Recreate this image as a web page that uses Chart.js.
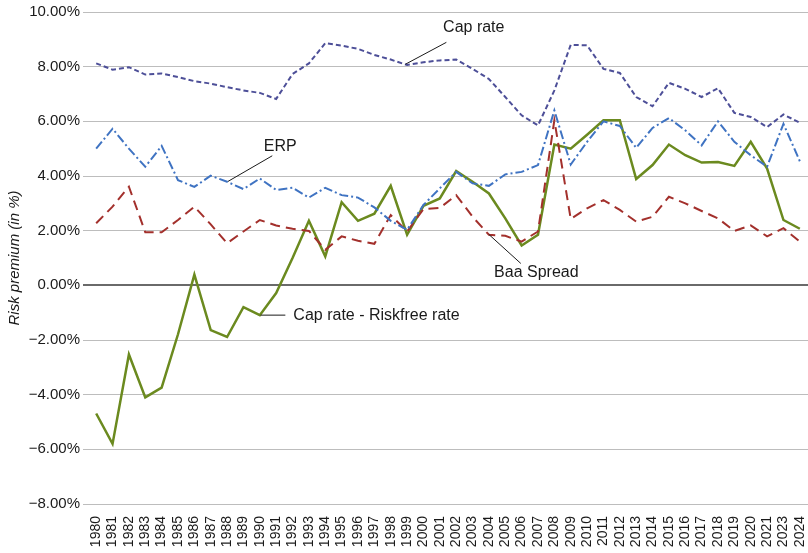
<!DOCTYPE html>
<html>
<head>
<meta charset="utf-8">
<script src="https://cdn.jsdelivr.net/npm/chart.js@4"></script>
<style>
  html, body { margin: 0; padding: 0; background: #fff; }
  #wrap { width: 808px; height: 553px; position: relative; }
</style>
</head>
<body>
<div id="wrap"><canvas id="chart"></canvas></div>
<script>
const years = ["1980","1981","1982","1983","1984","1985","1986","1987","1988","1989",
  "1990","1991","1992","1993","1994","1995","1996","1997","1998","1999",
  "2000","2001","2002","2003","2004","2005","2006","2007","2008","2009",
  "2010","2011","2012","2013","2014","2015","2016","2017","2018","2019",
  "2020","2021","2023","2024"];

const capRate = [8.12,7.89,7.98,7.71,7.75,7.62,7.47,7.38,7.25,7.13,
  7.04,6.82,7.73,8.12,8.86,8.77,8.65,8.43,8.26,8.06,
  8.16,8.23,8.26,7.92,7.55,6.89,6.22,5.85,7.13,8.80,
  8.78,7.92,7.77,6.89,6.55,7.41,7.19,6.89,7.21,6.31,
  6.16,5.79,6.25,5.95];

const erp = [5.00,5.73,5.00,4.34,5.10,3.85,3.60,4.01,3.79,3.52,
  3.91,3.49,3.57,3.21,3.57,3.30,3.21,2.85,2.36,2.03,
  2.94,3.55,4.15,3.73,3.64,4.06,4.15,4.40,6.40,4.42,
  5.25,6.00,5.83,5.03,5.76,6.12,5.67,5.12,6.00,5.25,
  4.76,4.34,5.91,4.54];

const baaSpread = [2.27,2.88,3.61,1.94,1.94,2.39,2.88,2.23,1.54,1.97,
  2.39,2.19,2.07,1.99,1.30,1.79,1.63,1.52,2.57,1.97,
  2.79,2.83,3.30,2.51,1.85,1.81,1.60,1.97,6.04,2.43,
  2.82,3.12,2.76,2.33,2.51,3.24,3.00,2.72,2.45,1.99,
  2.19,1.79,2.09,1.60];

const capMinusRf = [-4.69,-5.80,-2.53,-4.10,-3.74,-1.79,0.39,-1.64,-1.89,-0.80,
  -1.09,-0.28,1.00,2.36,1.06,3.04,2.36,2.62,3.64,1.85,
  2.91,3.18,4.18,3.79,3.36,2.45,1.46,1.85,5.15,5.00,
  5.51,6.04,6.04,3.89,4.40,5.15,4.76,4.49,4.51,4.37,
  5.25,4.27,2.39,2.07];

const yMin = -8, yMax = 10, yStep = 2;

// callout labels, placed in data space (category index, value)
const callouts = [
  { text: "Cap rate", from: [18.9, 8.09], to: [21.4, 8.89], at: [21.2, 9.43], align: "left" },
  { text: "ERP", from: [8.05, 3.80], to: [10.76, 4.74], at: [11.25, 5.06], align: "center" },
  { text: "Baa Spread", from: [24.0, 1.86], to: [25.95, 0.80], at: [26.9, 0.47], align: "center" },
  { text: "Cap rate - Riskfree rate", from: [10.05, -1.09], to: [11.56, -1.09], at: [12.05, -1.09], align: "left" }
];

const FONT = "'Liberation Sans', Arial, Helvetica, sans-serif";

const calloutPlugin = {
  id: "callouts",
  afterDatasetsDraw(chart) {
    const { ctx, scales: { x, y } } = chart;
    const px = i => x.getPixelForValue(0) + i * (x.getPixelForValue(1) - x.getPixelForValue(0));
    ctx.save();
    ctx.strokeStyle = "#1a1a1a";
    ctx.lineWidth = 1;
    ctx.fillStyle = "#1a1a1a";
    ctx.font = "16px " + FONT;
    ctx.textBaseline = "middle";
    callouts.forEach(c => {
      ctx.beginPath();
      ctx.moveTo(px(c.from[0]), y.getPixelForValue(c.from[1]));
      ctx.lineTo(px(c.to[0]), y.getPixelForValue(c.to[1]));
      ctx.stroke();
      ctx.textAlign = c.align;
      ctx.fillText(c.text, px(c.at[0]), y.getPixelForValue(c.at[1]));
    });
    ctx.restore();
  }
};

const ctx = document.getElementById("chart").getContext("2d");
new Chart(ctx, {
  type: "line",
  data: {
    labels: years,
    datasets: [
      { label: "Cap rate", data: capRate, borderColor: "#4d4f98", borderWidth: 2, borderDash: [5, 3] },
      { label: "ERP", data: erp, borderColor: "#3f73c2", borderWidth: 2, borderDash: [9, 3, 2, 3] },
      { label: "Baa Spread", data: baaSpread, borderColor: "#a3302c", borderWidth: 2, borderDash: [10, 6] },
      { label: "Cap rate - Riskfree rate", data: capMinusRf, borderColor: "#6b8a1f", borderWidth: 2.5 }
    ]
  },
  options: {
    responsive: true,
    maintainAspectRatio: false,
    animation: false,
    layout: { padding: { top: 10, right: 0, left: 0, bottom: 0 } },
    elements: { point: { radius: 0 }, line: { tension: 0, fill: false } },
    plugins: { legend: { display: false }, tooltip: { enabled: false } },
    scales: {
      x: {
        offset: true,
        grid: { display: false },
        border: { display: false },
        ticks: {
          autoSkip: false, maxRotation: 90, minRotation: 90, padding: 4,
          color: "#1a1a1a", font: { family: FONT, size: 14 }
        },
        afterFit: s => { s.height = 49; s.paddingLeft = 0; s.paddingRight = 0; }
      },
      y: {
        min: yMin, max: yMax,
        border: { display: false },
        grid: {
          color: c => c.tick && c.tick.value === 0 ? "#6a6a6a" : "#bdbdbd",
          lineWidth: c => c.tick && c.tick.value === 0 ? 2 : 1,
          drawTicks: true, tickLength: 5
        },
        ticks: {
          stepSize: yStep, padding: 3,
          color: "#1a1a1a", font: { family: FONT, size: 15 },
          callback: v => (v < 0 ? "\u2212" + Math.abs(v).toFixed(2) : v.toFixed(2)) + "%"
        },
        title: {
          display: true, text: "Risk premium (in %)", color: "#1a1a1a", padding: { top: 6, bottom: 0 },
          font: { family: FONT, size: 15, style: "italic" }
        },
        afterFit: s => { s.width = 88; }
      }
    }
  },
  plugins: [calloutPlugin]
});
</script>
</body>
</html>
